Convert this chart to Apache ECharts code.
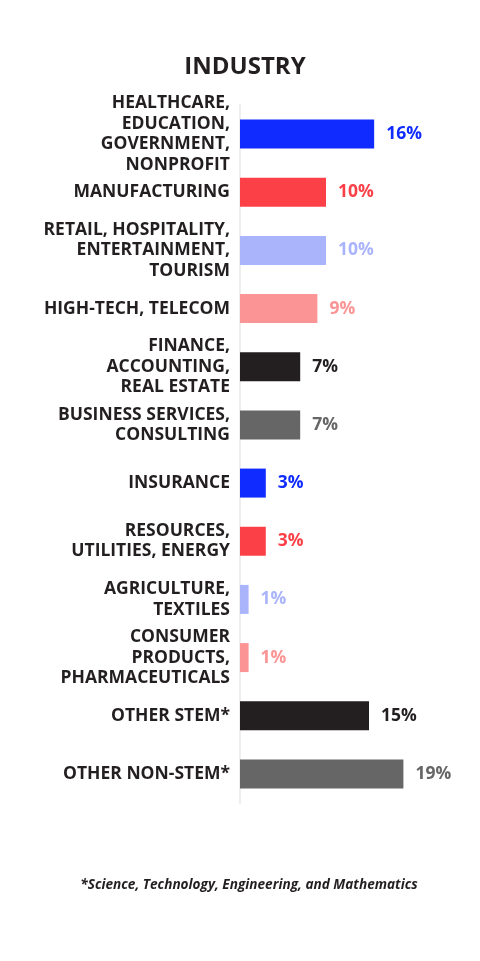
<!DOCTYPE html>
<html lang="en">
<head>
    <meta charset="UTF-8">
    <title>Industry</title>
    <script src="https://cdn.jsdelivr.net/npm/echarts@6/dist/echarts.min.js"></script>
    <style>
        html, body { margin: 0; padding: 0; background: #fff; }
    </style>
</head>
<body>
<div id="main" style="width: 480px;height:961px;"></div>
<script type="text/javascript">
    // data
    var industries = [
        'HEALTHCARE,\nEDUCATION,\nGOVERNMENT,\nNONPROFIT',
        'MANUFACTURING',
        'RETAIL, HOSPITALITY,\nENTERTAINMENT,\nTOURISM',
        'HIGH-TECH, TELECOM',
        'FINANCE,\nACCOUNTING,\nREAL ESTATE',
        'BUSINESS SERVICES,\nCONSULTING',
        'INSURANCE',
        'RESOURCES,\nUTILITIES, ENERGY',
        'AGRICULTURE,\nTEXTILES',
        'CONSUMER\nPRODUCTS,\nPHARMACEUTICALS',
        'OTHER STEM*',
        'OTHER NON-STEM*'
    ];
    var shares = [15.6, 10, 10, 9, 7, 7, 3, 3, 1, 1, 15, 19];
    var shareLabels = ['16%', '10%', '10%', '9%', '7%', '7%', '3%', '3%', '1%', '1%', '15%', '19%'];
    var barColors = ['#0f2bff', '#fc4047', '#aab4fb', '#fb9494', '#231f20', '#666666',
        '#0f2bff', '#fc4047', '#aab4fb', '#fb9494', '#231f20', '#666666'];

    var myChart = echarts.init(document.getElementById('main'));

    var barData = shares.map(function (v, i) {
        return {
            value: v,
            itemStyle: { color: barColors[i] },
            label: { color: barColors[i], formatter: shareLabels[i] }
        };
    });

    var font = 'Open Sans';

    var option = {
        backgroundColor: '#ffffff',
        title: [{
            text: 'INDUSTRY',
            left: 240,
            top: 50,
            textAlign: 'center',
            textStyle: { fontFamily: font, fontWeight: 'bold', fontSize: 24, color: '#231f20' }
        }, {
            text: '*Science, Technology, Engineering, and Mathematics',
            left: 244,
            top: 873,
            textAlign: 'center',
            textStyle: { fontFamily: font, fontWeight: 'bold', fontStyle: 'italic', fontSize: 13.6, color: '#231f20' }
        }],
        grid: { left: 240, right: 25, top: 105, bottom: 158 },
        xAxis: {
            type: 'value',
            min: 0,
            max: 25,
            show: false
        },
        yAxis: {
            type: 'category',
            inverse: true,
            data: industries,
            axisLine: { show: true, lineStyle: { color: '#eeeeee', width: 2 } },
            axisTick: { show: false },
            axisLabel: {
                margin: 10,
                fontFamily: font,
                fontWeight: 'bold',
                fontSize: 17.5,
                lineHeight: 20.5,
                color: '#231f20',
                align: 'right'
            }
        },
        series: [{
            type: 'bar',
            data: barData,
            barWidth: 29,
            label: {
                show: true,
                position: 'right',
                distance: 12,
                fontFamily: font,
                fontWeight: 'bold',
                fontSize: 17.5
            }
        }]
    };

    myChart.setOption(option);
</script>
</body>
</html>
